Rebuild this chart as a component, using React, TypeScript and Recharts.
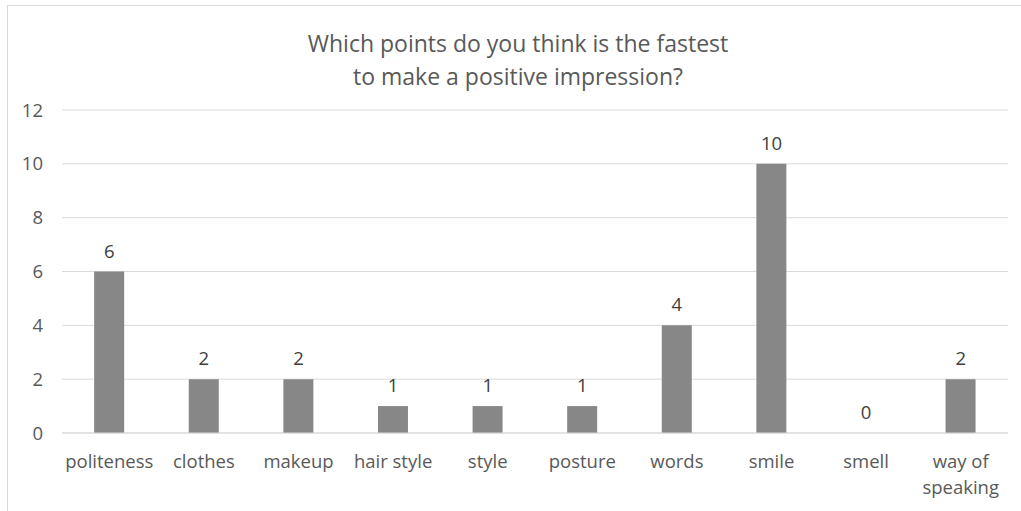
import React from "react";
import { ComposedChart, Bar, Line, XAxis, YAxis, CartesianGrid, LabelList } from "recharts";

const categories = ["politeness", "clothes", "makeup", "hair style", "style", "posture", "words", "smile", "smell", "way of speaking"];
const counts = [6, 2, 2, 1, 1, 1, 4, 10, 0, 2];
const yTicks = [0, 2, 4, 6, 8, 10, 12];
const titleLines = ["Which points do you think is the fastest", "to make a positive impression?"];

const data = categories.map((c, i) => ({ name: c, value: counts[i] }));

const FONT = "'Open Sans', sans-serif";
const FS = 18.5;

const XTick = (props: any) => {
  const { x, y, payload } = props;
  const label: string = payload.value;
  const lines = label === "way of speaking" ? ["way of", "speaking"] : [label];
  return (
    <g>
      {lines.map((l, i) => (
        <text key={i} x={x} y={y + 27 + i * 26} textAnchor="middle" fill="#595959" fontSize={FS} fontFamily={FONT}>
          {l}
        </text>
      ))}
    </g>
  );
};

export default function App() {
  return (
    <div style={{ position: "absolute", left: 0, top: 0, width: 1021, height: 511, background: "#fff" }}>
      <div style={{ position: "absolute", left: 7, top: 5, width: 1030, height: 520, border: "1px solid #d9d9d9", boxSizing: "border-box" }} />
      <div style={{ position: "absolute", left: 0, top: 27, width: 1036, textAlign: "center", fontFamily: FONT, fontSize: 23, color: "#595959", lineHeight: "33px" }}>
        {titleLines.map((t, i) => (
          <div key={i}>{t}</div>
        ))}
      </div>
      <div style={{ position: "absolute", left: 0, top: 0 }}>
        <ComposedChart width={1021} height={511} data={data} margin={{ top: 110, right: 13, left: 0, bottom: 18 }} barCategoryGap="34%">
          <CartesianGrid vertical={false} stroke="#d9d9d9" />
          <XAxis dataKey="name" axisLine={{ stroke: "#d9d9d9" }} tickLine={false} height={60} interval={0} tick={<XTick />} />
          <YAxis
            width={62}
            domain={[0, 12]}
            ticks={yTicks}
            axisLine={false}
            tickLine={false}
            tickSize={0}
            tickMargin={19}
            tick={{ fill: "#595959", fontSize: FS, fontFamily: FONT }}
          />
          <Bar dataKey="value" fill="#878787" isAnimationActive={false} />
          <Line dataKey="value" stroke="none" dot={false} activeDot={false} isAnimationActive={false} legendType="none">
            <LabelList dataKey="value" position="top" offset={14} fill="#404040" fontSize={FS} fontFamily={FONT} />
          </Line>
        </ComposedChart>
      </div>
    </div>
  );
}
